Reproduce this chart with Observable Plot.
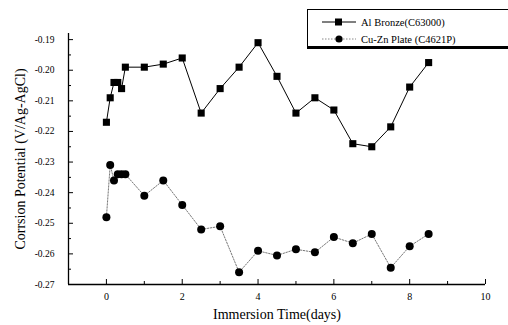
<!DOCTYPE html>
<html>
<head>
<meta charset="utf-8">
<script src="https://cdn.jsdelivr.net/npm/d3@7"></script>
<script src="https://cdn.jsdelivr.net/npm/@observablehq/plot@0.6"></script>
<style>
  html, body { margin: 0; padding: 0; background: #fff; overflow: hidden; }
  #wrap { position: relative; width: 508px; height: 325px; }
  #legend {
    position: absolute; left: 307px; top: 9px; width: 205px; height: 36px;
    border: 1px solid #000; border-bottom: 3px solid #000; border-right: 3px solid #000;
    background: #fff; font-family: "Liberation Serif", serif; font-size: 10.5px; color: #000;
  }
  .row { position: absolute; left: 0; height: 14px; display: flex; align-items: center; }
  .row svg { margin-left: 14px; margin-right: 5px; }
</style>
</head>
<body>
<div id="wrap">
  <div id="chart"></div>
  <div id="legend">
    <div class="row" style="top:5px"><svg width="34" height="10"><line x1="0" x2="34" y1="5" y2="5" stroke="#000" stroke-width="1"/><rect x="13" y="1.5" width="7" height="7" fill="#000"/></svg><span id="l1"></span></div>
    <div class="row" style="top:22px"><svg width="34" height="10"><line x1="0" x2="34" y1="5" y2="5" stroke="#888" stroke-width="1" stroke-dasharray="1.5,1.5"/><circle cx="17" cy="5" r="3.6" fill="#000"/></svg><span id="l2"></span></div>
  </div>
</div>
<script>
const seriesNames = ["Al Bronze(C63000)", "Cu-Zn Plate (C4621P)"];
const days = [0, 0.1, 0.2, 0.3, 0.4, 0.5, 1, 1.5, 2, 2.5, 3, 3.5, 4, 4.5, 5, 5.5, 6, 6.5, 7, 7.5, 8, 8.5];
const alBronze = [-0.217, -0.209, -0.204, -0.204, -0.206, -0.199, -0.199, -0.198, -0.196, -0.214, -0.206, -0.199, -0.191, -0.202, -0.214, -0.209, -0.213, -0.224, -0.225, -0.2185, -0.2055, -0.1975];
const cuZn = [-0.248, -0.231, -0.236, -0.234, -0.234, -0.234, -0.241, -0.236, -0.244, -0.252, -0.251, -0.266, -0.259, -0.2605, -0.2585, -0.2595, -0.2545, -0.2565, -0.2535, -0.2645, -0.2575, -0.2535];
const xTicks = [0, 2, 4, 6, 8, 10];
const xMinorTicks = [1, 3, 5, 7, 9];
const yTicks = [-0.27, -0.26, -0.25, -0.24, -0.23, -0.22, -0.21, -0.20, -0.19];
const yMinorTicks = [-0.265, -0.255, -0.245, -0.235, -0.225, -0.215, -0.205, -0.195];
const xLabel = "Immersion Time(days)";
const yLabel = "Corrsion Potential (V/Ag-AgCl)";

document.getElementById("l1").textContent = seriesNames[0];
document.getElementById("l2").textContent = seriesNames[1];

const al = days.map((d, i) => ({day: d, v: alBronze[i]}));
const cz = days.map((d, i) => ({day: d, v: cuZn[i]}));

const W = 508, H = 325, mL = 68, mR = 23, mT = 33, mB = 41;
const plotW = W - mL - mR, plotH = H - mT - mB;

const chart = Plot.plot({
  width: W,
  height: H,
  marginLeft: mL,
  marginRight: mR,
  marginTop: mT,
  marginBottom: mB,
  style: {fontFamily: "Liberation Serif, serif", background: "#fff", color: "#000", fontSize: "10px"},
  x: {domain: [-1, 10]},
  y: {domain: [-0.27, -0.188]},
  marks: [
    Plot.ruleX([-1], {stroke: "#000", strokeWidth: 1.3}),
    Plot.ruleY([-0.27], {stroke: "#000", strokeWidth: 1.3}),
    Plot.axisX({ticks: xTicks, tickSize: 0, tickPadding: 8, tickFormat: d => String(d), fontSize: 10, label: null}),
    Plot.axisY({ticks: yTicks, tickSize: 0, tickPadding: 14, tickFormat: d => d.toFixed(2), fontSize: 9.5, label: null}),
    Plot.tickX(xTicks, {x: d => d, insetTop: plotH - 5, stroke: "#000"}),
    Plot.tickX(xMinorTicks, {x: d => d, insetTop: plotH - 3, stroke: "#000"}),
    Plot.tickY(yTicks, {y: d => d, insetRight: plotW - 5, stroke: "#000"}),
    Plot.tickY(yMinorTicks, {y: d => d, insetRight: plotW - 3, stroke: "#000"}),
    Plot.line(cz, {x: "day", y: "v", stroke: "#777", strokeWidth: 1, strokeDasharray: "1.5,1.5"}),
    Plot.line(al, {x: "day", y: "v", stroke: "#000", strokeWidth: 1}),
    Plot.dot(cz, {x: "day", y: "v", r: 4, fill: "#000", symbol: "circle"}),
    Plot.dot(al, {x: "day", y: "v", r: 4, fill: "#000", symbol: "square"}),
    Plot.text([xLabel], {frameAnchor: "bottom", dy: 34, lineAnchor: "bottom", fontSize: 14}),
    Plot.text([yLabel], {frameAnchor: "left", dx: -48, rotate: -90, textAnchor: "middle", fontSize: 14})
  ]
});
document.getElementById("chart").appendChild(chart);
</script>
</body>
</html>
